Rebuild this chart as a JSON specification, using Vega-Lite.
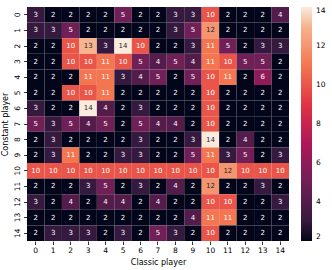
{
  "$schema": "https://vega.github.io/schema/vega-lite/v6.json",
  "width": 262,
  "height": 234,
  "autosize": {"type": "none"},
  "padding": {"left": 27, "top": 7, "right": 43, "bottom": 29},
  "background": "white",
  "config": {
    "view": {"stroke": null},
    "font": "DejaVu Sans",
    "axis": {"labelFont": "DejaVu Sans", "titleFont": "DejaVu Sans", "labelColor": "#000", "titleColor": "#000", "titleFontWeight": "normal", "labelFontSize": 7.5, "titleFontSize": 8, "tickColor": "#000", "tickSize": 3.5, "tickWidth": 0.8, "domain": false, "grid": false}
  },
  "data": {"values": [
    {"r":0,"c":0,"v":3},{"r":0,"c":1,"v":2},{"r":0,"c":2,"v":2},{"r":0,"c":3,"v":2},{"r":0,"c":4,"v":2},{"r":0,"c":5,"v":5},{"r":0,"c":6,"v":2},{"r":0,"c":7,"v":2},{"r":0,"c":8,"v":3},{"r":0,"c":9,"v":3},{"r":0,"c":10,"v":10},{"r":0,"c":11,"v":2},{"r":0,"c":12,"v":2},{"r":0,"c":13,"v":2},{"r":0,"c":14,"v":4},
    {"r":1,"c":0,"v":3},{"r":1,"c":1,"v":3},{"r":1,"c":2,"v":5},{"r":1,"c":3,"v":2},{"r":1,"c":4,"v":2},{"r":1,"c":5,"v":2},{"r":1,"c":6,"v":2},{"r":1,"c":7,"v":2},{"r":1,"c":8,"v":3},{"r":1,"c":9,"v":5},{"r":1,"c":10,"v":12},{"r":1,"c":11,"v":2},{"r":1,"c":12,"v":2},{"r":1,"c":13,"v":2},{"r":1,"c":14,"v":2},
    {"r":2,"c":0,"v":2},{"r":2,"c":1,"v":2},{"r":2,"c":2,"v":10},{"r":2,"c":3,"v":13},{"r":2,"c":4,"v":3},{"r":2,"c":5,"v":14},{"r":2,"c":6,"v":10},{"r":2,"c":7,"v":2},{"r":2,"c":8,"v":2},{"r":2,"c":9,"v":3},{"r":2,"c":10,"v":11},{"r":2,"c":11,"v":5},{"r":2,"c":12,"v":2},{"r":2,"c":13,"v":3},{"r":2,"c":14,"v":3},
    {"r":3,"c":0,"v":2},{"r":3,"c":1,"v":2},{"r":3,"c":2,"v":10},{"r":3,"c":3,"v":10},{"r":3,"c":4,"v":11},{"r":3,"c":5,"v":10},{"r":3,"c":6,"v":5},{"r":3,"c":7,"v":4},{"r":3,"c":8,"v":5},{"r":3,"c":9,"v":4},{"r":3,"c":10,"v":11},{"r":3,"c":11,"v":10},{"r":3,"c":12,"v":5},{"r":3,"c":13,"v":5},{"r":3,"c":14,"v":2},
    {"r":4,"c":0,"v":2},{"r":4,"c":1,"v":2},{"r":4,"c":2,"v":2},{"r":4,"c":3,"v":11},{"r":4,"c":4,"v":11},{"r":4,"c":5,"v":3},{"r":4,"c":6,"v":4},{"r":4,"c":7,"v":5},{"r":4,"c":8,"v":2},{"r":4,"c":9,"v":5},{"r":4,"c":10,"v":10},{"r":4,"c":11,"v":11},{"r":4,"c":12,"v":2},{"r":4,"c":13,"v":6},{"r":4,"c":14,"v":2},
    {"r":5,"c":0,"v":2},{"r":5,"c":1,"v":2},{"r":5,"c":2,"v":10},{"r":5,"c":3,"v":10},{"r":5,"c":4,"v":11},{"r":5,"c":5,"v":2},{"r":5,"c":6,"v":2},{"r":5,"c":7,"v":2},{"r":5,"c":8,"v":2},{"r":5,"c":9,"v":2},{"r":5,"c":10,"v":10},{"r":5,"c":11,"v":2},{"r":5,"c":12,"v":2},{"r":5,"c":13,"v":2},{"r":5,"c":14,"v":2},
    {"r":6,"c":0,"v":3},{"r":6,"c":1,"v":2},{"r":6,"c":2,"v":2},{"r":6,"c":3,"v":14},{"r":6,"c":4,"v":4},{"r":6,"c":5,"v":2},{"r":6,"c":6,"v":3},{"r":6,"c":7,"v":2},{"r":6,"c":8,"v":2},{"r":6,"c":9,"v":2},{"r":6,"c":10,"v":10},{"r":6,"c":11,"v":2},{"r":6,"c":12,"v":2},{"r":6,"c":13,"v":2},{"r":6,"c":14,"v":2},
    {"r":7,"c":0,"v":5},{"r":7,"c":1,"v":3},{"r":7,"c":2,"v":5},{"r":7,"c":3,"v":4},{"r":7,"c":4,"v":5},{"r":7,"c":5,"v":2},{"r":7,"c":6,"v":5},{"r":7,"c":7,"v":4},{"r":7,"c":8,"v":4},{"r":7,"c":9,"v":2},{"r":7,"c":10,"v":10},{"r":7,"c":11,"v":2},{"r":7,"c":12,"v":2},{"r":7,"c":13,"v":2},{"r":7,"c":14,"v":2},
    {"r":8,"c":0,"v":2},{"r":8,"c":1,"v":3},{"r":8,"c":2,"v":2},{"r":8,"c":3,"v":2},{"r":8,"c":4,"v":2},{"r":8,"c":5,"v":2},{"r":8,"c":6,"v":3},{"r":8,"c":7,"v":2},{"r":8,"c":8,"v":2},{"r":8,"c":9,"v":3},{"r":8,"c":10,"v":14},{"r":8,"c":11,"v":2},{"r":8,"c":12,"v":4},{"r":8,"c":13,"v":2},{"r":8,"c":14,"v":2},
    {"r":9,"c":0,"v":2},{"r":9,"c":1,"v":3},{"r":9,"c":2,"v":11},{"r":9,"c":3,"v":2},{"r":9,"c":4,"v":2},{"r":9,"c":5,"v":3},{"r":9,"c":6,"v":3},{"r":9,"c":7,"v":2},{"r":9,"c":8,"v":2},{"r":9,"c":9,"v":5},{"r":9,"c":10,"v":11},{"r":9,"c":11,"v":3},{"r":9,"c":12,"v":5},{"r":9,"c":13,"v":2},{"r":9,"c":14,"v":3},
    {"r":10,"c":0,"v":10},{"r":10,"c":1,"v":10},{"r":10,"c":2,"v":10},{"r":10,"c":3,"v":10},{"r":10,"c":4,"v":10},{"r":10,"c":5,"v":10},{"r":10,"c":6,"v":10},{"r":10,"c":7,"v":10},{"r":10,"c":8,"v":10},{"r":10,"c":9,"v":10},{"r":10,"c":10,"v":10},{"r":10,"c":11,"v":12},{"r":10,"c":12,"v":10},{"r":10,"c":13,"v":10},{"r":10,"c":14,"v":10},
    {"r":11,"c":0,"v":2},{"r":11,"c":1,"v":2},{"r":11,"c":2,"v":2},{"r":11,"c":3,"v":3},{"r":11,"c":4,"v":5},{"r":11,"c":5,"v":2},{"r":11,"c":6,"v":3},{"r":11,"c":7,"v":2},{"r":11,"c":8,"v":4},{"r":11,"c":9,"v":2},{"r":11,"c":10,"v":12},{"r":11,"c":11,"v":2},{"r":11,"c":12,"v":2},{"r":11,"c":13,"v":3},{"r":11,"c":14,"v":2},
    {"r":12,"c":0,"v":3},{"r":12,"c":1,"v":2},{"r":12,"c":2,"v":4},{"r":12,"c":3,"v":2},{"r":12,"c":4,"v":4},{"r":12,"c":5,"v":4},{"r":12,"c":6,"v":2},{"r":12,"c":7,"v":4},{"r":12,"c":8,"v":2},{"r":12,"c":9,"v":2},{"r":12,"c":10,"v":10},{"r":12,"c":11,"v":10},{"r":12,"c":12,"v":2},{"r":12,"c":13,"v":2},{"r":12,"c":14,"v":3},
    {"r":13,"c":0,"v":2},{"r":13,"c":1,"v":2},{"r":13,"c":2,"v":2},{"r":13,"c":3,"v":2},{"r":13,"c":4,"v":2},{"r":13,"c":5,"v":2},{"r":13,"c":6,"v":2},{"r":13,"c":7,"v":2},{"r":13,"c":8,"v":2},{"r":13,"c":9,"v":4},{"r":13,"c":10,"v":11},{"r":13,"c":11,"v":11},{"r":13,"c":12,"v":2},{"r":13,"c":13,"v":2},{"r":13,"c":14,"v":2},
    {"r":14,"c":0,"v":2},{"r":14,"c":1,"v":3},{"r":14,"c":2,"v":3},{"r":14,"c":3,"v":3},{"r":14,"c":4,"v":2},{"r":14,"c":5,"v":3},{"r":14,"c":6,"v":2},{"r":14,"c":7,"v":5},{"r":14,"c":8,"v":3},{"r":14,"c":9,"v":2},{"r":14,"c":10,"v":10},{"r":14,"c":11,"v":2},{"r":14,"c":12,"v":2},{"r":14,"c":13,"v":2},{"r":14,"c":14,"v":2}
  ]},
  "encoding": {
    "x": {"field": "c", "type": "ordinal", "title": "Classic player", "sort": "ascending", "scale": {"paddingInner": 0, "paddingOuter": 0}, "axis": {"labelAngle": 0, "titlePadding": 4, "labelPadding": 2}},
    "y": {"field": "r", "type": "ordinal", "title": "Constant player", "sort": "ascending", "scale": {"paddingInner": 0, "paddingOuter": 0}, "axis": {"labelAngle": -90, "labelAlign": "center", "labelBaseline": "bottom", "labelPadding": 2, "titlePadding": 4}}
  },
  "layer": [
    {
      "mark": {"type": "rect"},
      "encoding": {
        "color": {
          "field": "v", "type": "quantitative",
          "scale": {"type": "linear", "domain": [2, 3, 5, 7, 9, 11, 13, 14], "range": ["#03051a", "#35193e", "#701f57", "#ad1759", "#e13342", "#f37651", "#f6b48f", "#faebdd"], "interpolate": "rgb"},
          "legend": {"title": null, "values": [2, 4, 6, 8, 10, 12, 14], "gradientLength": 234, "gradientThickness": 11, "offset": 12, "labelFontSize": 7.5, "labelColor": "#000", "labelFont": "DejaVu Sans", "gradientStrokeWidth": 0, "labelOffset": 4, "padding": 0}
        }
      }
    },
    {
      "mark": {"type": "text", "fontSize": 7, "font": "DejaVu Sans"},
      "encoding": {
        "text": {"field": "v", "type": "quantitative"},
        "color": {"condition": {"test": "datum.v >= 12", "value": "#262626"}, "value": "#ffffff"}
      }
    }
  ]
}
